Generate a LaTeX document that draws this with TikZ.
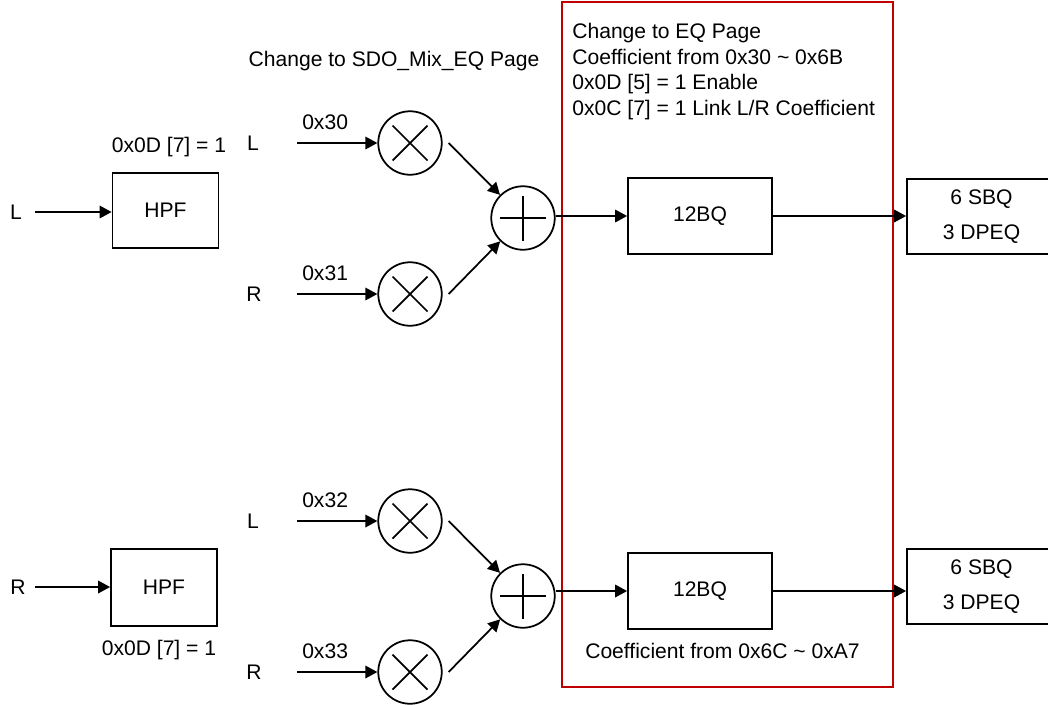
\documentclass[tikz,border=0pt]{standalone}
\usepackage{fontspec}
\setmainfont{Liberation Sans}
\usetikzlibrary{arrows.meta,positioning}
\definecolor{pagered}{RGB}{192,0,0}

\begin{document}
\begin{tikzpicture}[
  x=0.02cm, y=-0.02cm,
  font=\fontsize{12}{14.6}\selectfont,
  blk/.style={rectangle, draw=black, line width=1pt, minimum width=2.12cm, minimum height=1.5cm, align=center},
  eqblk/.style={blk, minimum width=2.88cm, minimum height=1.52cm},
  outblk/.style={blk, minimum width=2.98cm, minimum height=1.5cm},
  mix/.style={circle, draw, line width=1pt, minimum size=1.27cm, inner sep=0pt,
    path picture={\draw[line width=1pt]
      ([shift={(-0.35cm,-0.35cm)}]path picture bounding box.center) -- ++(0.7cm,0.7cm)
      ([shift={(-0.35cm,0.35cm)}]path picture bounding box.center) -- ++(0.7cm,-0.7cm);}},
  sum/.style={circle, draw, line width=1pt, minimum size=1.27cm, inner sep=0pt,
    path picture={\draw[line width=1pt]
      ([xshift=-0.46cm]path picture bounding box.center) -- ++(0.92cm,0)
      ([yshift=-0.45cm]path picture bounding box.center) -- ++(0,0.9cm);}},
  arr/.style={-{Triangle[length=2.4mm,width=2.5mm]}, line width=1pt},
  frame/.style={draw=pagered, line width=1pt}
]
\clip (0,0) rectangle (1048,704);

% EQ page frame
\draw[frame] (562,2) rectangle (893,687);
\node[anchor=north west, inner sep=0pt, align=left] (eqnote) at (572,23)
  {Change to EQ Page\\Coefficient from 0x30 \textasciitilde{} 0x6B\\0x0D [5] = 1 Enable\\0x0C [7] = 1 Link L/R Coefficient};
\node (mixnote) at (394,61) {Change to SDO\_Mix\_EQ Page};

% upper channel
\node (inL) at (16,212) {L};
\coordinate (iL) at (35,212);
\node[blk] (hpfL) at (165.5,210.5) {HPF};
\node (cfgL) at (169,147) {0x0D [7] = 1};
\draw[arr] (iL) -- (iL -| hpfL.west);

\node (selLA) at (253,143) {L};
\node (selRA) at (254,294) {R};
\node[mix] (mulA) at (410,143) {};
\node[mix] (mulB) at (410,294) {};
\coordinate (sLA) at (297,143);
\coordinate (sRA) at (297,294);
\draw[arr] (sLA) -- node[above=3.5pt, pos=.35] {0x30} (mulA);
\draw[arr] (sRA) -- node[above=3.5pt, pos=.35] {0x31} (mulB);

\node[sum] (addA) at (523,218) {};
\draw[arr] ([xshift=0.12cm]mulA.east) -- (addA);
\draw[arr] ([xshift=0.12cm]mulB.east) -- (addA);

\node[eqblk] (eqA) at (700,216) {12BQ};
\node[outblk] (outA) at (981.5,216.5) {6 SBQ\\[5.4pt]3 DPEQ};
\draw[arr] (addA.east |- eqA.west) -- (eqA.west);
\draw[arr] (eqA.east) -- (eqA.east -| outA.west);

% lower channel
\node (inR) at (18,587) {R};
\coordinate (iR) at (35,587);
\node[blk, minimum height=1.54cm] (hpfR) at (164,587.5) {HPF};
\node (cfgR) at (159,650) {0x0D [7] = 1};
\draw[arr] (iR) -- (iR -| hpfR.west);

\node (selLB) at (253,521) {L};
\node (selRB) at (254,672) {R};
\node[mix] (mulC) at (410,521) {};
\node[mix] (mulD) at (410,672) {};
\coordinate (sLB) at (297,521);
\coordinate (sRB) at (297,672);
\draw[arr] (sLB) -- node[above=3.5pt, pos=.35] {0x32} (mulC);
\draw[arr] (sRB) -- node[above=3.5pt, pos=.35] {0x33} (mulD);

\node[sum] (addB) at (523,596) {};
\draw[arr] ([xshift=0.12cm]mulC.east) -- (addB);
\draw[arr] ([xshift=0.12cm]mulD.east) -- (addB);

\node[eqblk] (eqB) at (700,591) {12BQ};
\node (coefB) at (722.5,650.5) {Coefficient from 0x6C \textasciitilde{} 0xA7};
\node[outblk] (outB) at (981.5,586.5) {6 SBQ\\[5.4pt]3 DPEQ};
\draw[arr] (addB.east |- eqB.west) -- (eqB.west);
\draw[arr] (eqB.east) -- (eqB.east -| outB.west);
\end{tikzpicture}
\end{document}
